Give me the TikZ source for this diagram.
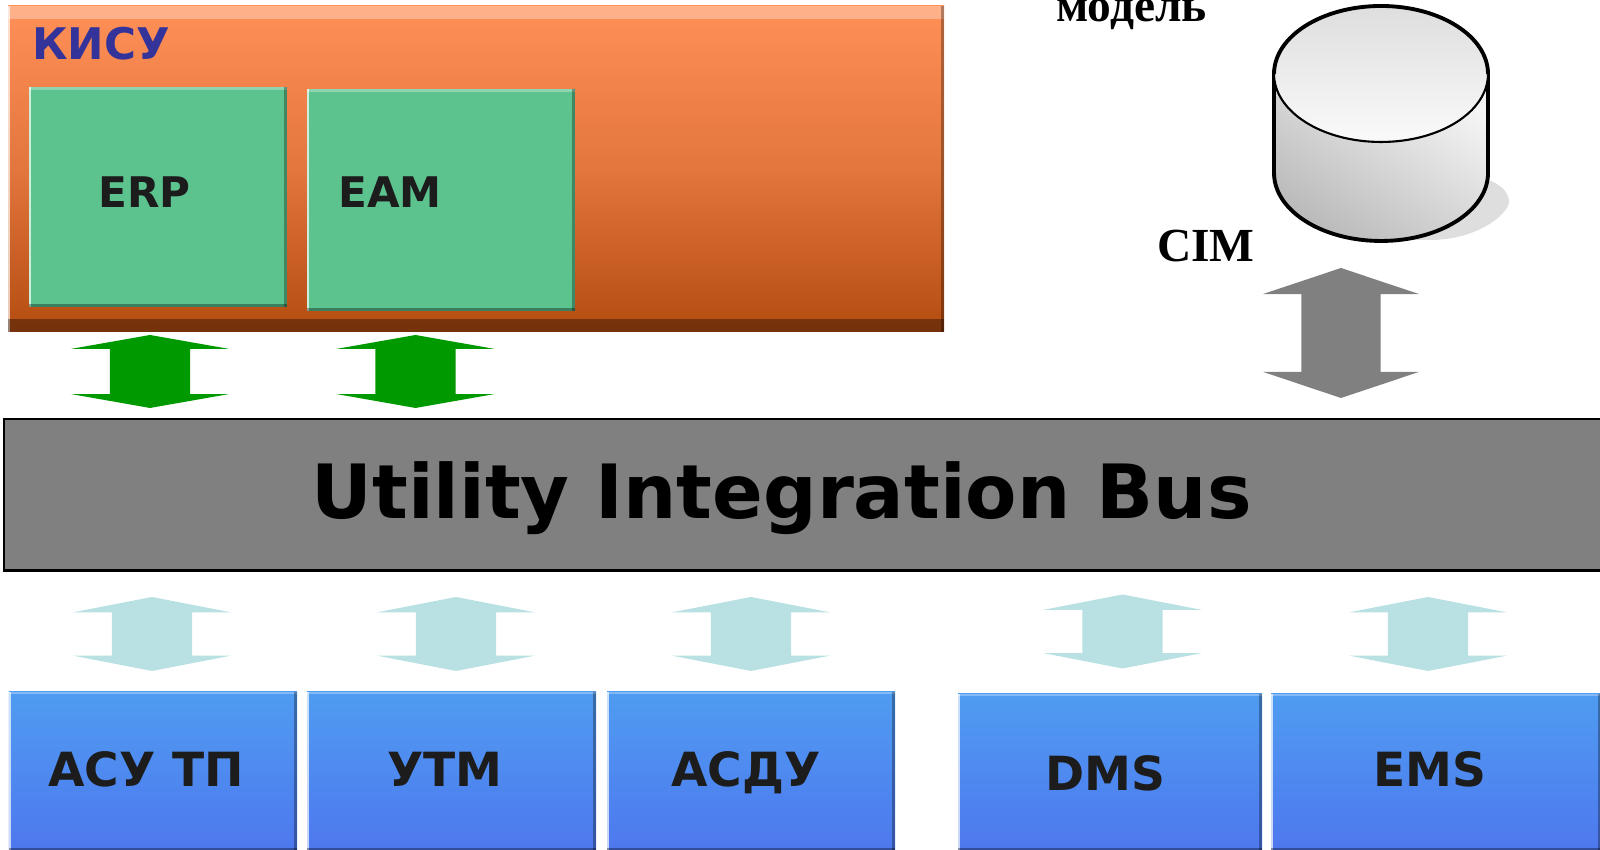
\documentclass[tikz,border=0pt]{standalone}
\usepackage{xcolor}
\usepackage{fontspec}
\setmainfont{DejaVu Sans}
\newfontfamily\cimfont{Liberation Serif}
\usetikzlibrary{shapes.arrows, positioning, calc}
\definecolor{kisutop}{HTML}{FF9058}
\definecolor{kisubot}{HTML}{B44C10}
\definecolor{kisutext}{HTML}{333399}
\definecolor{appgreen}{HTML}{5CC38F}
\definecolor{sysblue}{HTML}{4F9CF1}
\definecolor{sysblue2}{HTML}{4E78EE}
\definecolor{busgray}{HTML}{808080}
\definecolor{linkgreen}{HTML}{009900}
\definecolor{linklight}{HTML}{B9E0E3}
\definecolor{labeldark}{HTML}{1C1C1C}

\begin{document}
\begin{tikzpicture}[
    bevel/.style={
        path picture={
            \fill[white, opacity=0.3] (path picture bounding box.north west) rectangle ([yshift=-#1]path picture bounding box.north east);
            \fill[white, opacity=0.7] (path picture bounding box.north west) rectangle ([xshift=0.02cm]path picture bounding box.south west);
            \fill[black, opacity=0.3] ([xshift=-0.03cm]path picture bounding box.north east) rectangle (path picture bounding box.south east);
            \fill[black, opacity=0.35] ([yshift=#1]path picture bounding box.south west) rectangle (path picture bounding box.south east);
        }},
    appbox/.style={anchor=north west, inner sep=0pt, outer sep=0pt, fill=appgreen, bevel=0.03cm},
    sysbox/.style={anchor=north west, inner sep=0pt, outer sep=0pt, top color=sysblue, bottom color=sysblue2, bevel=0.02cm},
    boxlabel/.style={anchor=base, text=labeldark, font=\bfseries\fontsize{#1}{#1}\selectfont},
    serif/.style={anchor=base, font=\cimfont\bfseries\fontsize{13.5}{14}\selectfont},
    link/.style={double arrow, rotate=90, inner xsep=0pt, inner ysep=0.395cm, outer sep=0pt, draw=none, minimum height=0.73cm, minimum width=1.57cm, double arrow head extend=0.39cm, double arrow tip angle=160, fill=#1},
    biglink/.style={link=busgray, inner ysep=0.39cm, minimum height=1.30cm, minimum width=1.55cm, double arrow head extend=0.385cm, double arrow tip angle=143}
]
\clip (0,0) rectangle (16,8.5);
\useasboundingbox (0,0) rectangle (16,8.5);
\fill[white] (0,0) rectangle (16,8.5);

% Top block with its applications
\node[anchor=north west, inner sep=0pt, outer sep=0pt, minimum width=9.36cm, minimum height=3.26cm, top color=kisutop, bottom color=kisubot, middle color=kisutop!62!kisubot, bevel=0.13cm] (kisu) at (0.08,8.44) {};
\node[anchor=base, text=kisutext, font=\bfseries\fontsize{12.4}{14}\selectfont] (kisulabel) at (1.01,7.90) {КИСУ};
\node[appbox, minimum width=2.58cm, minimum height=2.20cm] (erp) at (0.29,7.63) {};
\node[appbox, minimum width=2.68cm, minimum height=2.22cm] (eam) at (3.07,7.61) {};
\node[boxlabel=12] (erplabel) at (1.445,6.42) {ERP};
\node[boxlabel=12] (eamlabel) at (3.90,6.42) {EAM};

% Links to the top block
\node[link=linkgreen] (linkerp) at (1.50,4.785) {};
\node[link=linkgreen] (linkeam) at (4.155,4.785) {};

% Model store
\fill[black!13] (14.88,6.70) .. controls (15.00,6.66) and (15.09,6.58) .. (15.09,6.48) .. controls (15.09,6.38) and (14.80,6.10) .. (14.30,6.10) -- (13.80,6.10) -- cycle;
\path[shading=axis, top color=black!4, bottom color=black!27, shading angle=-35, draw=black, line width=1.1pt] (12.74,7.76) -- (12.74,6.77) arc[start angle=180, end angle=360, x radius=1.07cm, y radius=0.68cm] -- (14.88,7.76) -- cycle;
\path[top color=black!13, bottom color=black!2, draw=black, line width=0.6pt] (13.81,7.76) ellipse[x radius=1.07cm, y radius=0.68cm];
\draw[black, line width=1.1pt] (12.74,7.76) arc[start angle=180, end angle=0, x radius=1.07cm, y radius=0.68cm];
\node[serif] (modellabel) at (11.315,8.28) {модель};
\node[serif] (cimlabel) at (12.06,5.88) {CIM};
\node[biglink] (linkcim) at (13.41,5.17) {};

% Bus
\node[anchor=north west, inner sep=0pt, outer sep=0pt, minimum width=16.3cm, minimum height=1.515cm, fill=busgray, draw=black, line width=0.6pt] (bus) at (0.04,4.31) {};
\node[anchor=base, text=black, font=\bfseries\fontsize{21.3}{25}\selectfont] (buslabel) at (7.815,3.31) {Utility Integration Bus};

% Links to the lower systems
\foreach \name/\x/\y in {linkasutp/1.52/2.16, linkutm/4.56/2.16, linkasdu/7.51/2.16, linkdms/11.225/2.185, linkems/14.28/2.16}
    \node[link=linklight, minimum height=0.74cm, minimum width=1.58cm, double arrow tip angle=158] (\name) at (\x,\y) {};

% Lower systems
\node[sysbox, minimum width=2.88cm, minimum height=1.58cm] (asutp) at (0.09,1.58) {};
\node[sysbox, minimum width=2.89cm, minimum height=1.58cm] (utm) at (3.07,1.58) {};
\node[sysbox, minimum width=2.88cm, minimum height=1.58cm] (asdu) at (6.07,1.58) {};
\node[sysbox, minimum width=3.04cm, minimum height=1.56cm] (dms) at (9.58,1.56) {};
\node[sysbox, minimum width=3.30cm, minimum height=1.56cm] (ems) at (12.71,1.56) {};
\node[boxlabel=13.4] (asutplabel) at (1.46,0.63) {АСУ ТП};
\node[boxlabel=13.4] (utmlabel) at (4.45,0.63) {УТМ};
\node[boxlabel=13.4] (asdulabel) at (7.46,0.63) {АСДУ};
\node[boxlabel=13.4] (dmslabel) at (11.05,0.59) {DMS};
\node[boxlabel=13.4] (emslabel) at (14.30,0.63) {EMS};

\end{tikzpicture}
\end{document}
